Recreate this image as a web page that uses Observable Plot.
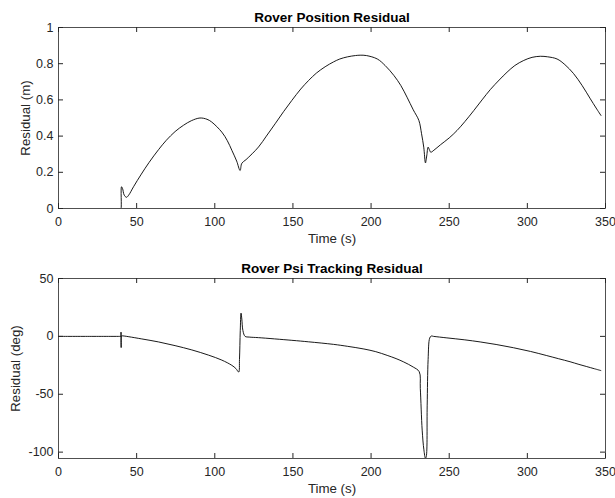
<!DOCTYPE html>
<html><head><meta charset="utf-8">
<script src="https://cdn.jsdelivr.net/npm/d3@7"></script>
<script src="https://cdn.jsdelivr.net/npm/@observablehq/plot@0.6"></script>
<style>body{margin:0;background:#fff} svg{display:block}</style>
</head><body><div id="c"></div><script>
const timeTicks = [0, 50, 100, 150, 200, 250, 300, 350];
const posTicks = [0, 0.2, 0.4, 0.6, 0.8, 1];
const psiTicks = [-100, -50, 0, 50];

const posTime = [0, 20, 39.8, 40, 40.3, 41, 42, 43.5, 45, 48, 53, 58, 64, 69, 74.6, 80, 85, 90.5, 95, 98, 104.5, 108, 111, 114, 116.2, 117.3, 120, 128, 133, 138.6, 144, 149.3, 155, 160, 165, 170.6, 176, 180, 185, 190, 193, 197, 204, 209, 214.6, 219, 223, 227, 230.6, 232.3, 233.7, 234.8, 235.6, 236.5, 237.3, 238.2, 240.2, 244.4, 250, 255, 260, 265.7, 271, 276.4, 282, 287, 292, 297.7, 303, 308.3, 313, 319, 324, 329.6, 335, 340.3, 344, 347.1];
const posResidual = [0, 0, 0, 0, 0.12, 0.11, 0.075, 0.062, 0.075, 0.12, 0.19, 0.255, 0.325, 0.377, 0.425, 0.46, 0.485, 0.5, 0.493, 0.478, 0.422, 0.375, 0.32, 0.262, 0.21, 0.25, 0.27, 0.34, 0.40, 0.468, 0.535, 0.597, 0.66, 0.707, 0.748, 0.783, 0.81, 0.826, 0.838, 0.845, 0.847, 0.845, 0.826, 0.79, 0.735, 0.68, 0.615, 0.545, 0.486, 0.413, 0.339, 0.252, 0.29, 0.339, 0.325, 0.311, 0.322, 0.352, 0.39, 0.431, 0.48, 0.541, 0.6, 0.658, 0.71, 0.753, 0.79, 0.818, 0.835, 0.841, 0.838, 0.826, 0.795, 0.745, 0.68, 0.606, 0.555, 0.514];

const psiTime = [0, 20, 39.8, 39.9, 40, 40.1, 40.2, 40.4, 42, 45, 53.3, 64, 74.6, 85.3, 96, 104.5, 110.9, 113.5, 115.3, 115.8, 116.3, 116.8, 117.3, 118, 119.4, 122, 128, 149.3, 160, 176, 185, 195.4, 203, 210.3, 216, 220.9, 227, 230.8, 231.5, 232.7, 233.8, 234.8, 235.3, 235.9, 236.5, 237.5, 238.5, 240, 248.5, 260, 269.8, 280, 291.1, 302, 312.4, 320, 327.3, 333, 338, 343, 347];
const psiResidual = [0, 0, 0, 0, 3.7, -9.7, 0, 0.4, 0.3, -0.3, -2.2, -4.8, -8.0, -11.7, -16.2, -20.5, -25, -27.8, -30.8, -20, 5, 20.1, 15, 5, 0, -0.6, -1.1, -3.4, -4.7, -6.9, -8.6, -10.9, -13.2, -16.4, -19.2, -22.1, -26.5, -30.5, -45, -81, -98, -105.3, -104, -60, -20, -1.5, 0.3, 0, -1.3, -3.0, -4.8, -7.0, -9.8, -13.0, -16.6, -19.3, -21.9, -24.2, -26.1, -28.0, -29.5];

const FONT = "'Liberation Sans', Arial, Helvetica, sans-serif";
const INK = "#262626";

function panel({times, values, yDomain, yTicks, title, ylabel, height, mt, mb, ylabelDx}) {
  const data = times.map((t, i) => ({t, v: values[i]}));
  const ml = 58, mr = 10, W = 615;
  const ih = height - mt - mb, iw = W - ml - mr;
  return Plot.plot({
    width: W, height, marginTop: mt, marginBottom: mb, marginLeft: ml, marginRight: mr,
    x: {domain: [0, 350]},
    y: {domain: yDomain},
    style: {fontFamily: FONT, fontSize: "12.5px", color: INK, background: "#fff"},
    marks: [
      Plot.line(data, {x: "t", y: "v", stroke: "black", strokeWidth: 0.9, curve: "catmull-rom", clip: true}),
      Plot.tickX(timeTicks, {x: d => d, insetTop: ih - 5, stroke: INK}),
      Plot.tickX(timeTicks, {x: d => d, insetBottom: ih - 5, stroke: INK}),
      Plot.tickY(yTicks, {y: d => d, insetRight: iw - 5, stroke: INK}),
      Plot.tickY(yTicks, {y: d => d, insetLeft: iw - 5, stroke: INK}),
      Plot.frame({stroke: INK, strokeWidth: 0.8}),
      Plot.axisX({ticks: timeTicks, tickSize: 0, tickPadding: 9, label: null, tickFormat: d => String(d)}),
      Plot.axisY({ticks: yTicks, tickSize: 0, tickPadding: 5, label: null, tickFormat: d => String(d)}),
      Plot.text([title], {text: d => d, frameAnchor: "top", textAnchor: "middle", lineAnchor: "middle", dy: -10, fontWeight: "bold", fontSize: 13.5, fill: "#000"}),
      Plot.text(["Time (s)"], {text: d => d, frameAnchor: "bottom", textAnchor: "middle", lineAnchor: "middle", dy: 30, fontSize: 13.3, fill: INK}),
      Plot.text([ylabel], {text: d => d, frameAnchor: "left", textAnchor: "middle", lineAnchor: "middle", rotate: -90, dx: ylabelDx, fontSize: 13.3, fill: INK})
    ]
  });
}

const c = document.getElementById("c");
c.append(panel({times: posTime, values: posResidual, yDomain: [0, 1], yTicks: posTicks,
  title: "Rover Position Residual", ylabel: "Residual (m)", height: 250, mt: 27, mb: 42, ylabelDx: -33}));
c.append(panel({times: psiTime, values: psiResidual, yDomain: [-105.5, 50], yTicks: psiTicks,
  title: "Rover Psi Tracking Residual", ylabel: "Residual (deg)", height: 248, mt: 28, mb: 40, ylabelDx: -43}));
</script></body></html>
